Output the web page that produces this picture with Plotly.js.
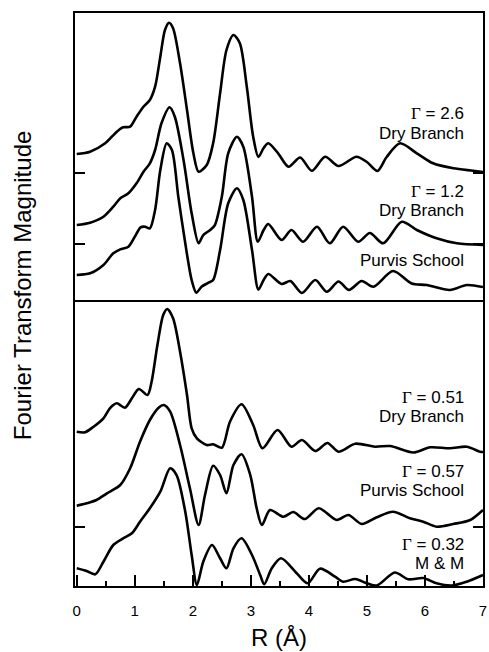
<!DOCTYPE html>
<html>
<head>
<meta charset="utf-8">
<script src="https://cdn.plot.ly/plotly-3.0.1.min.js"></script>
<style>html,body{margin:0;padding:0;background:#fff;}#chart{width:489px;height:652px;}</style>
</head>
<body>
<div id="chart"></div>
<script>
// ---- Data (R in Å, magnitude in arbitrary offset units) ----
// Top panel
const rDry26 = [0.00,0.23,0.49,0.69,0.80,0.92,1.03,1.15,1.26,1.35,1.44,1.52,1.59,1.66,1.78,1.90,2.01,2.10,2.24,2.35,2.47,2.58,2.70,2.81,2.93,3.04,3.13,3.22,3.30,3.47,3.65,3.85,4.05,4.28,4.51,4.82,5.00,5.18,5.34,5.57,5.86,6.14,6.49,6.83,7.00];
const mDry26 = [148,150.3,158.7,170.3,174.7,175.3,185.3,195.3,202,215.3,245.3,272,279.3,273.7,238.7,192,148.7,130.3,137,158.7,208.7,252,267,258.7,215.3,165.3,145,154,158.7,148.7,135.3,144.5,131.3,145.3,136,145.3,140,131,145,158.7,148.7,138.7,133.7,131.3,130];

const rDry12 = [0.00,0.23,0.46,0.63,0.75,0.89,1.03,1.15,1.26,1.35,1.46,1.60,1.69,1.84,1.98,2.10,2.18,2.30,2.38,2.50,2.61,2.76,2.87,3.02,3.12,3.22,3.30,3.53,3.70,3.90,4.14,4.36,4.59,4.85,5.05,5.28,5.60,5.86,6.20,6.55,7.00];
const mDry12 = [77,79.3,85.3,95.3,103.7,108.7,118.7,130.3,138.7,152,178.7,194.7,185.3,142,88.7,58.7,67,72,77,105.3,148.7,165.3,155.3,105.3,60.3,72,78,62,72,60.3,75.3,58.7,75.3,60.3,69,58.7,80.3,72,63.7,58.7,57];

const rPurvisTop = [0.00,0.23,0.46,0.63,0.75,0.89,1.00,1.10,1.18,1.26,1.35,1.44,1.55,1.64,1.75,1.87,1.98,2.06,2.15,2.27,2.35,2.47,2.61,2.76,2.87,3.02,3.13,3.22,3.30,3.53,3.68,3.88,4.11,4.31,4.51,4.69,4.91,5.11,5.45,5.77,6.03,6.43,6.72,7.00];
const mPurvisTop = [27,28.7,37,48.7,52.7,55.3,65.3,74.7,75.3,73.7,92,132,158.7,152,105.3,58.7,22,9.3,15.3,19.3,22,52,98.7,113.7,102,52,12.5,22,28,18,21,9,22,10.3,20.5,12,21,15.3,31,18.5,17,12,17,15];

// Bottom panel
const rDry051 = [0.00,0.14,0.29,0.46,0.57,0.69,0.83,0.95,1.07,1.22,1.29,1.39,1.49,1.56,1.66,1.78,1.90,1.98,2.07,2.24,2.35,2.50,2.64,2.84,3.04,3.20,3.46,3.70,3.88,4.11,4.32,4.51,4.80,5.14,5.40,5.80,6.09,6.43,6.72,6.95,7.00];
const mDry051 = [154.3,153.7,159.3,167.7,177.7,182.7,178.3,187.7,197,191,204.3,241,271,277,267.7,234.3,191,157.7,147.7,141,141.7,138.3,164.3,181.7,161,137.7,156,139.3,146,135,143,134.3,142.3,139.3,140,133.5,138.7,137.7,139.3,134.3,134];

const rPurvis057 = [0.00,0.17,0.34,0.52,0.75,0.92,1.09,1.26,1.41,1.50,1.61,1.78,1.95,2.10,2.21,2.35,2.47,2.58,2.70,2.84,2.99,3.10,3.19,3.33,3.56,3.73,3.93,4.17,4.48,4.68,4.91,5.16,5.45,5.74,5.97,6.20,6.49,6.78,7.00];
const mPurvis057 = [80.3,82.7,86,92.7,101,117.7,144.3,166,178.3,181,174.3,141,97.7,61,91,120.3,111,92.7,121,131.7,111,77.7,61,76,69.3,74,67,77.7,66,71,62,68.5,74.3,67.7,64.3,59.3,62,66,76];

const rMM032 = [0.00,0.17,0.32,0.46,0.63,0.80,0.95,1.09,1.26,1.44,1.61,1.72,1.87,1.98,2.07,2.18,2.33,2.47,2.58,2.70,2.84,3.02,3.16,3.23,3.36,3.52,3.79,3.98,4.19,4.45,4.59,4.80,5.00,5.17,5.48,5.71,5.97,6.20,6.47,6.72,7.00];
const mMM032 = [17.7,15,11.7,24.3,41,47.7,52.7,64.3,77.7,94.3,117.7,111,74.3,31,1,24.3,41,27.7,17.7,37.7,47.7,31,11,1.7,17.7,27.7,12.7,2.7,17.3,9.3,4.3,7,2.7,0.5,13.5,6.7,8,2.7,0.5,4.3,11];

const xTickVals = [0,1,2,3,4,5,6,7];
const xMinorVals = [0.5,1.5,2.5,3.5,4.5,5.5,6.5];

// ---- Labels ----
const G = '<span style="font-family:Liberation Serif">Γ</span>';
const topLabels = [
  {text:G + ' = 2.6', y:188.5},
  {text:'Dry Branch', y:169},
  {text:G + ' = 1.2', y:110.75},
  {text:'Dry Branch', y:91.25},
  {text:'Purvis School', y:42}
];
const botLabels = [
  {text:G + ' = 0.51', y:188.75},
  {text:'Dry Branch', y:169.25},
  {text:G + ' = 0.57', y:115},
  {text:'Purvis School', y:95.5},
  {text:G + ' = 0.32', y:41.75},
  {text:'M &amp; M', y:22.25}
];

const FONT = 'Liberation Sans, Arial, Helvetica, sans-serif';
const lineStyle = {color:'#000', width:2.6, shape:'spline', smoothing:0.8};

function tr(x, y, ax, name){
  return {x:x, y:y, xaxis:ax[0], yaxis:ax[1], type:'scatter', mode:'lines', line:lineStyle, name:name, hoverinfo:'skip'};
}

const traces = [
  tr(rDry26, mDry26, ['x2','y2'], 'Γ = 2.6 Dry Branch'),
  tr(rDry12, mDry12, ['x2','y2'], 'Γ = 1.2 Dry Branch'),
  tr(rPurvisTop, mPurvisTop, ['x2','y2'], 'Purvis School'),
  tr(rDry051, mDry051, ['x','y'], 'Γ = 0.51 Dry Branch'),
  tr(rPurvis057, mPurvis057, ['x','y'], 'Γ = 0.57 Purvis School'),
  tr(rMM032, mMM032, ['x','y'], 'Γ = 0.32 M & M')
];

const labelFont = {family:FONT, size:17, color:'#000'};
const annotations = [];
topLabels.forEach(l => annotations.push({text:l.text, x:6.69, y:l.y, xref:'x2', yref:'y2', xanchor:'right', yanchor:'middle', borderpad:0, showarrow:false, font:labelFont}));
botLabels.forEach(l => annotations.push({text:l.text, x:6.69, y:l.y, xref:'x', yref:'y', xanchor:'right', yanchor:'middle', borderpad:0, showarrow:false, font:labelFont}));
annotations.push({text:'Fourier Transform Magnitude', textangle:-90, xref:'paper', yref:'paper', x:-0.13, y:0.525, xanchor:'center', yanchor:'middle', showarrow:false, font:{family:FONT, size:24, color:'#000'}});

const split = 0.4956;
const layout = {
  width:489, height:652,
  margin:{l:75, r:6, t:13, b:66, pad:0},
  paper_bgcolor:'#fff', plot_bgcolor:'#fff',
  showlegend:false,
  font:{family:FONT, color:'#000'},
  xaxis:{anchor:'y', domain:[0,1], range:[-0.03,7.0], tickvals:xTickVals, ticktext:xTickVals.map(String),
         ticks:'inside', ticklen:11, tickwidth:1.6, tickcolor:'#000',
         minor:{tickvals:xMinorVals, ticks:'inside', ticklen:5, tickwidth:1.6, tickcolor:'#000', showgrid:false},
         showline:true, linewidth:2, linecolor:'#000', mirror:true, showgrid:false, zeroline:false,
         tickfont:{family:FONT, size:15, color:'#000'}, ticklabelstandoff:10,
         title:{text:'R (Å)', font:{family:FONT, size:24, color:'#000'}, standoff:11}},
  xaxis2:{anchor:'y2', matches:'x', side:'top', range:[-0.03,7.0], showticklabels:false, ticks:'',
          showline:true, linewidth:2, linecolor:'#000', mirror:false, showgrid:false, zeroline:false},
  yaxis:{domain:[0,split], range:[0,284], tickvals:[59], ticks:'inside', ticklen:10, tickwidth:1.6, tickcolor:'#000',
         showticklabels:false, showline:true, linewidth:2, linecolor:'#000', mirror:'ticks', showgrid:false, zeroline:false},
  yaxis2:{domain:[split,1], range:[0,289], tickvals:[58,129], ticks:'inside', ticklen:10, tickwidth:1.6, tickcolor:'#000',
          showticklabels:false, showline:true, linewidth:2, linecolor:'#000', mirror:'ticks', showgrid:false, zeroline:false},
  annotations:annotations
};

Plotly.newPlot('chart', traces, layout, {staticPlot:true, displayModeBar:false});
</script>
</body>
</html>
